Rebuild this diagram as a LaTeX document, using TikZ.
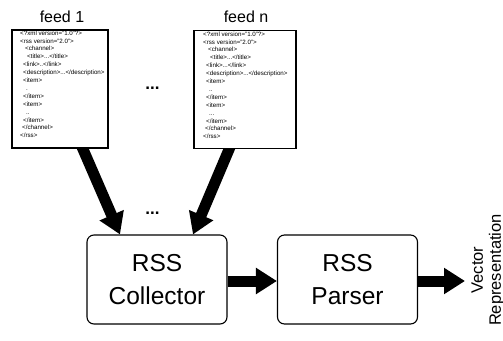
\documentclass[tikz,border=0pt]{standalone}
\usepackage{fontspec}
\setmainfont{Liberation Sans}
\usetikzlibrary{arrows.meta,calc}
\begin{document}
\begin{tikzpicture}[x=1pt,y=-1pt,
  feedbox/.style={draw=black, line width=1.1pt, fill=white, minimum width=96pt, minimum height=118pt, inner sep=0pt},
  xmltext/.style={anchor=north west, inner sep=0pt, align=left, font=\fontsize{6.2}{7.9}\selectfont},
  feedlabel/.style={font=\fontsize{16}{19}\selectfont, inner sep=0pt},
  dotsstyle/.style={font=\fontsize{17}{20}\selectfont\bfseries, inner sep=0pt, anchor=base},
  procbox/.style={draw=black, line width=1.1pt, rounded corners=7pt, fill=white, minimum width=140pt, minimum height=89pt, align=center, inner sep=0pt, font=\fontsize{24.5}{33}\selectfont},
  bigarrow/.style={line width=11pt, -{Triangle[length=21pt,width=25pt]}}]
\useasboundingbox (0,0) rectangle (503,340);

% processing boxes
\node[procbox] (coll) at (157,279.5) {RSS\\Collector};
\node[procbox] (pars) at (347.5,279.5) {RSS\\Parser};

% slanted arrows (drawn before feed boxes)
\coordinate (s1) at (79,140);
\coordinate (s2) at (233,140);
\draw[bigarrow] (s1) -- ($(coll.north)+(-37,0)$);
\draw[bigarrow] (s2) -- ($(coll.north)+(36,0)$);

% feed boxes
\node[feedbox] (feed1) at (60,89) {};
\node[feedbox, minimum width=102pt] (feedn) at (245,89.5) {};

\node[xmltext] (x1) at (20,30.5) {%
<?xml version="1.0"?>\\
<rss version="2.0">\\
\hspace*{5pt}<channel>\\
\hspace*{7pt}<title>...</title>\\
\hspace*{3pt}<link>..</link>\\
\hspace*{3pt}<description>...</description>\\
\hspace*{3pt}<item>\\
\hspace*{6pt}.\\
\hspace*{3pt}</item>\\
\hspace*{3pt}<item>\\
\hspace*{6pt}..\\
\hspace*{3pt}</item>\\
\hspace*{2pt}</channel>\\
</rss>};

\node[xmltext] (xn) at (203,31.5) {%
<?xml version="1.0"?>\\
<rss version="2.0">\\
\hspace*{5pt}<channel>\\
\hspace*{7pt}<title>...</title>\\
\hspace*{3pt}<link>...</link>\\
\hspace*{3pt}<description>...</description>\\
\hspace*{3pt}<item>\\
\hspace*{6pt}..\\
\hspace*{3pt}</item>\\
\hspace*{3pt}<item>\\
\hspace*{6pt}...\\
\hspace*{3pt}</item>\\
\hspace*{2pt}</channel>\\
</rss>};

% labels
\node[feedlabel] (l1) at (62,17) {feed 1};
\node[feedlabel] (ln) at (246,17) {feed n};
\node[dotsstyle] (d1) at (152.5,89) {...};
\node[dotsstyle] (d2) at (152.5,214) {...};

% horizontal arrows
\coordinate (out) at (465,281);
\draw[bigarrow] (coll.east |- 0,281) -- (pars.west |- 0,281);
\draw[bigarrow] (pars.east |- 0,281) -- (out);

\node[rotate=90, align=center, inner sep=0pt, font=\fontsize{16.5}{18}\selectfont] (vec) at (488,270) {Vector\\Representation};
\end{tikzpicture}
\end{document}
